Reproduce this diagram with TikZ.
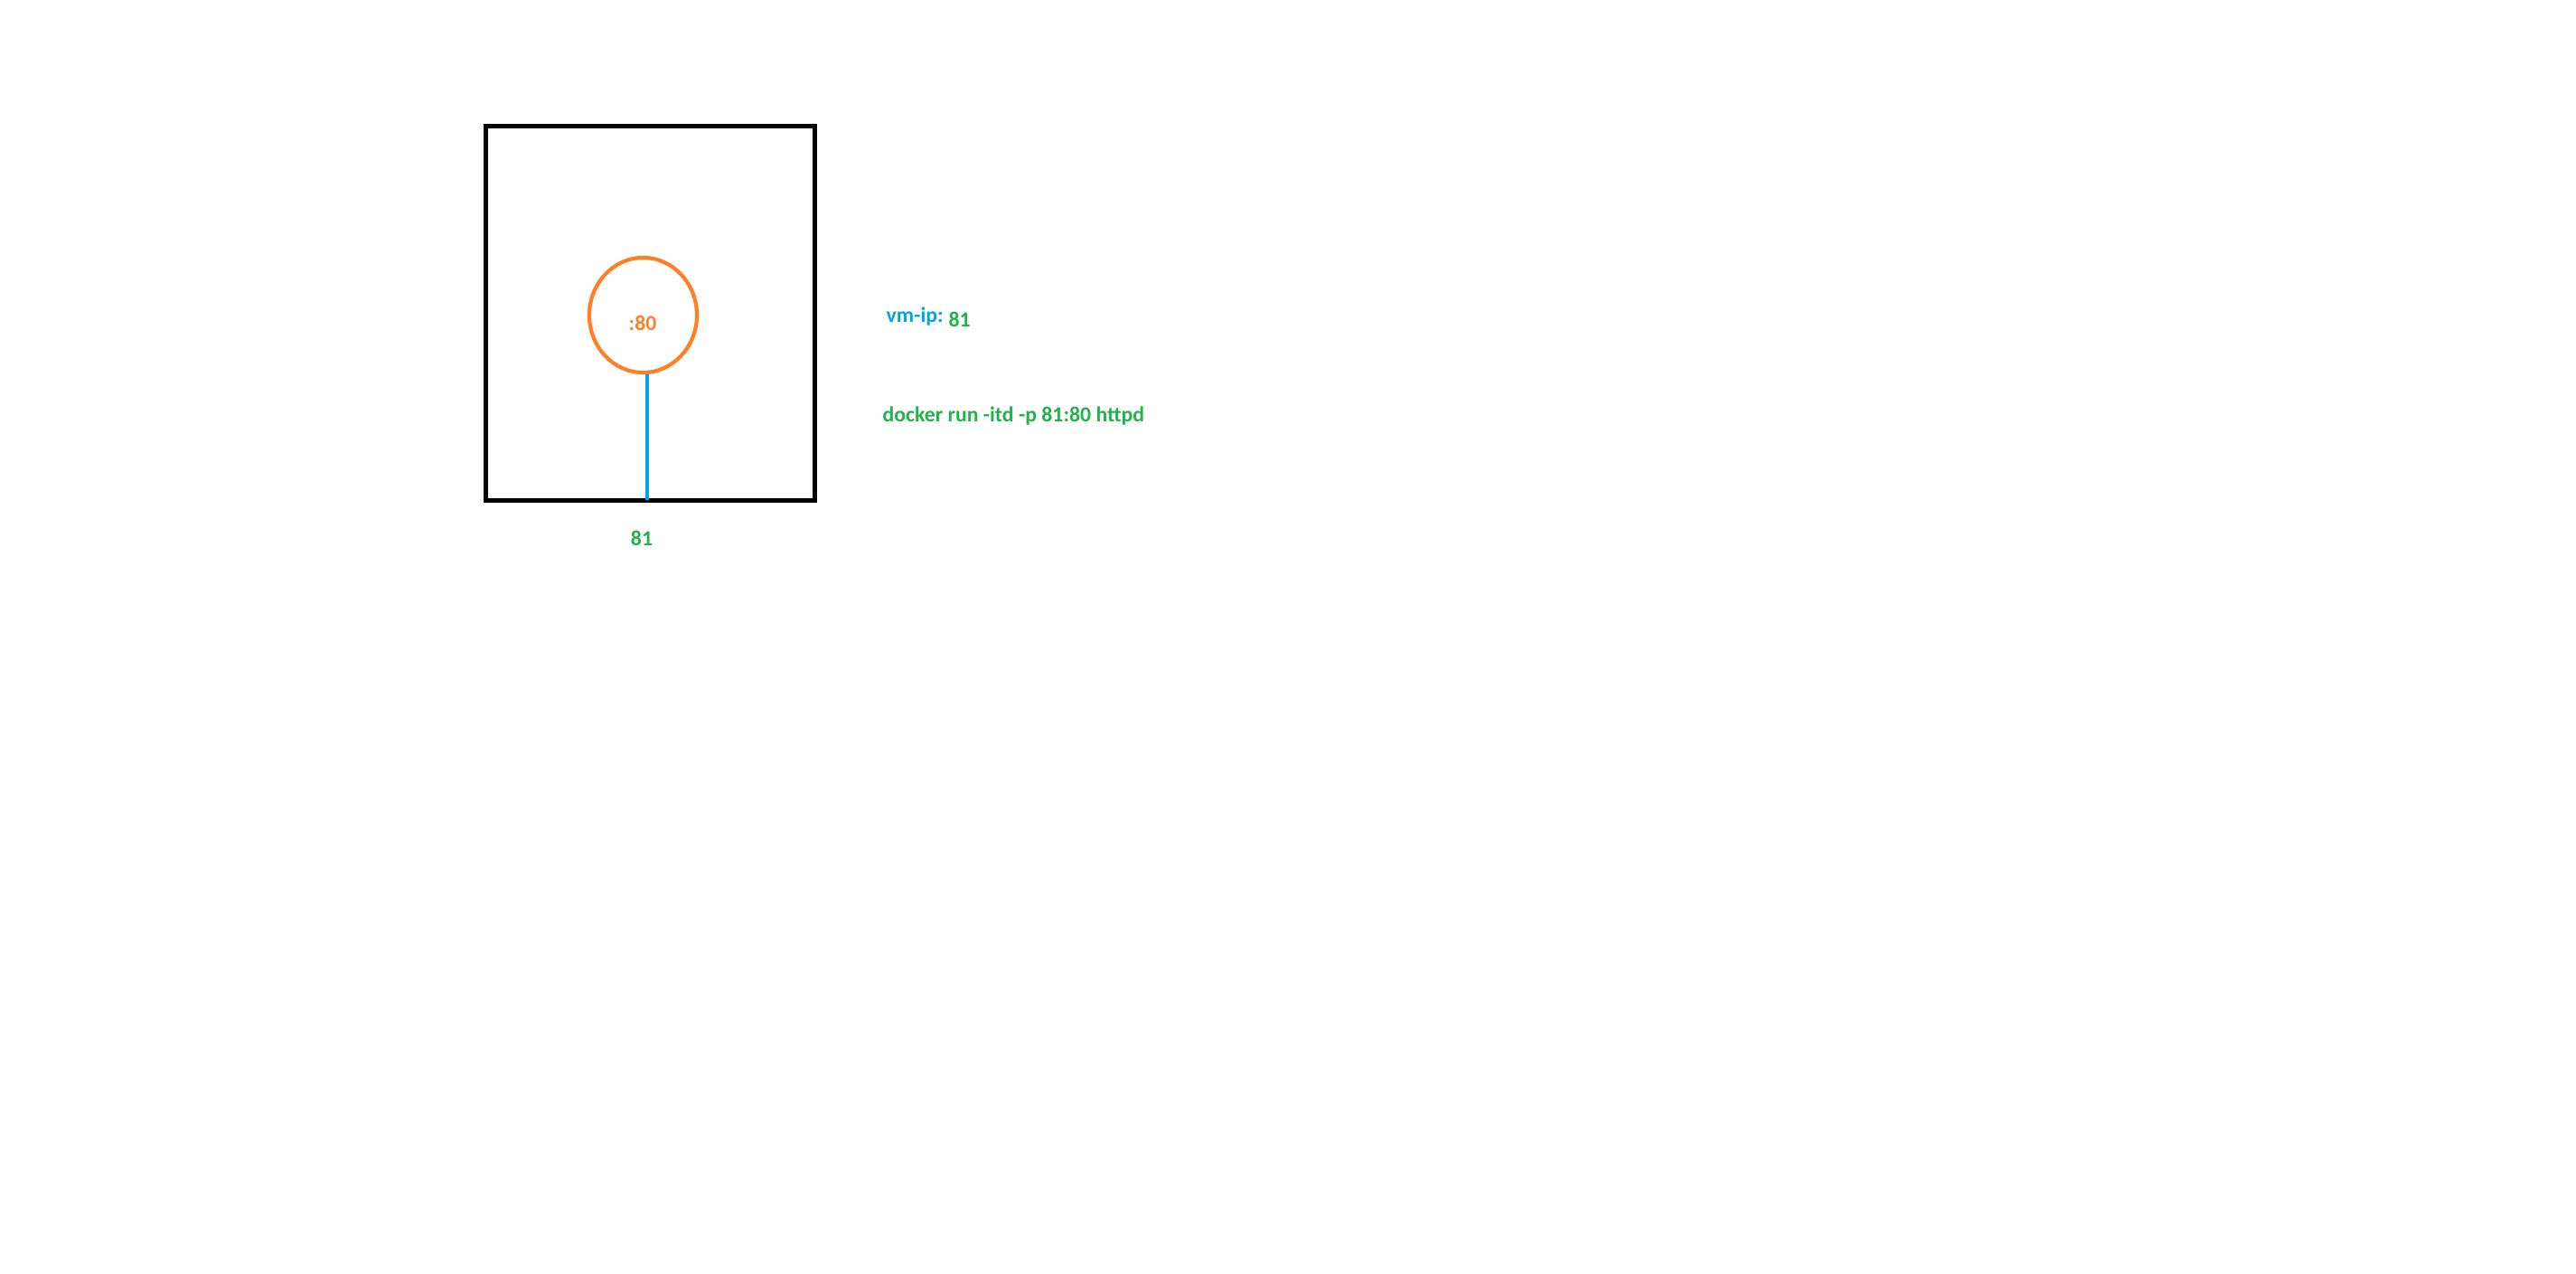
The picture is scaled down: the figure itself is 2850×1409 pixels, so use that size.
\documentclass[tikz,border=0pt]{standalone}
\usepackage{fontspec}
\setmainfont{Carlito}
\usetikzlibrary{shapes.geometric}

\definecolor{pOrange}{RGB}{255,127,39}
\definecolor{pBlue}{RGB}{0,162,232}
\definecolor{pGreen}{RGB}{34,177,76}

\begin{document}
\begin{tikzpicture}[
	x=0.01cm, y=-0.01cm,
	container/.style={draw, line width=1.45pt, minimum width=3.63cm, minimum height=4.13cm, inner sep=0},
	portring/.style={ellipse, draw=pOrange, line width=1.2pt, minimum width=1.19cm, minimum height=1.27cm, inner sep=0},
	txt/.style={font=\fontsize{6.75}{8}\selectfont\bfseries, inner sep=0},
	link/.style={pBlue, line width=1.3pt}
]
\useasboundingbox (0, 0) rectangle (2850, 1409);

% container
\node [container] (box) at (719.5, 346.5) {};
\node [portring] (port) at (711.5, 348.5) {};
\node [txt, pOrange] (portlbl) at (711, 357) {:80};

% host port
\coordinate (hostpt) at (716, 553);
\draw [link] (port.south -| hostpt) -- (hostpt);
\node [txt, pGreen] (hostlbl) at (710, 595) {81};

% notes
\node [txt, pBlue, anchor=base west] (vmip) at (980, 356) {vm-ip:};
\node [txt, pGreen, anchor=base west] (vmport) at (1049, 361) {81};
\node [txt, pGreen, anchor=base west] (cmd) at (976, 466) {docker run -itd -p 81:80 httpd};
\end{tikzpicture}
\end{document}
